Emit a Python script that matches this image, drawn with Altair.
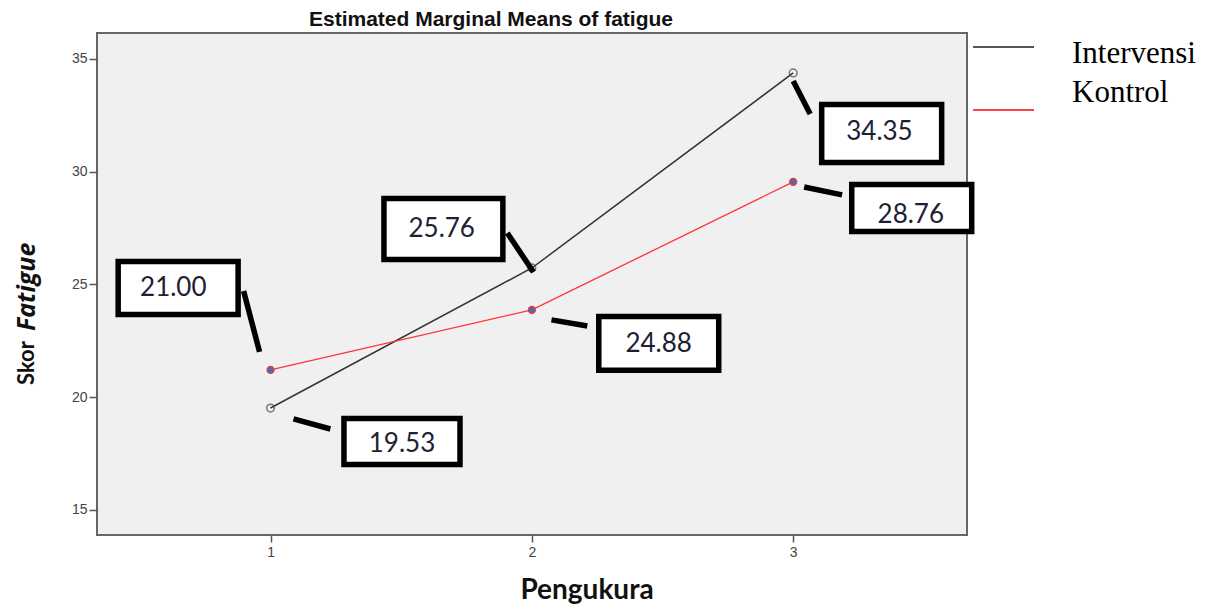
import altair as alt
import pandas as pd

# --- data ---
pengukuran = [1, 2, 3]
intervensi = [19.52, 25.73, 34.38]
kontrol = [21.21, 23.87, 29.55]

# annotation labels (text as printed in the boxes)
label_text = ["21.00", "25.76", "24.88", "34.35", "28.76", "19.53"]
# boxes in data units
box_x1 = [0.417, 1.434, 2.256, 3.109, 3.224, 1.281]
box_x2 = [0.876, 1.889, 2.715, 3.568, 3.683, 1.725]
box_y1 = [26.02, 28.81, 23.58, 32.98, 29.43, 19.06]
box_y2 = [23.67, 26.11, 21.19, 30.41, 27.35, 17.02]
txt_x = [0.628, 1.655, 2.485, 3.330, 3.450, 1.503]
txt_y = [24.84, 27.46, 22.38, 31.75, 28.10, 17.93]
# leader lines in data units
lead_x1 = [0.897, 1.906, 2.075, 3.000, 3.042, 1.088]
lead_y1 = [24.71, 27.28, 23.43, 34.02, 29.32, 19.04]
lead_x2 = [0.958, 2.006, 2.212, 3.065, 3.187, 1.229]
lead_y2 = [22.01, 25.55, 23.16, 32.56, 28.97, 18.59]

XDOM = [0.336, 3.665]
YDOM = [13.89, 36.15]

df_int = pd.DataFrame({"x": pengukuran, "y": intervensi})
df_kon = pd.DataFrame({"x": pengukuran, "y": kontrol})
df_box = pd.DataFrame({"x1": box_x1, "x2": box_x2, "y1": box_y1, "y2": box_y2,
                       "tx": txt_x, "ty": txt_y, "label": label_text})
df_lead = pd.DataFrame({"x1": lead_x1, "y1": lead_y1, "x2": lead_x2, "y2": lead_y2})

xscale = alt.Scale(domain=XDOM, nice=False, zero=False)
yscale = alt.Scale(domain=YDOM, nice=False, zero=False)
xaxis = alt.Axis(values=[1, 2, 3], format="d", grid=False, domain=False, title=None,
                 tickColor="#555", tickSize=7, tickWidth=1.5, labelFontSize=14,
                 labelColor="#444", labelPadding=3, labelFont="Liberation Sans")
yaxis = alt.Axis(values=[15, 20, 25, 30, 35], format="d", grid=False, domain=False, title=None,
                 tickColor="#555", tickSize=8, tickWidth=1.5, labelFontSize=14,
                 labelColor="#444", labelPadding=2, labelFont="Liberation Sans")

base_x = alt.X("x:Q", scale=xscale, axis=xaxis)
base_y = alt.Y("y:Q", scale=yscale, axis=yaxis)

line_int = alt.Chart(df_int).mark_line(color="#333333", strokeWidth=1.5).encode(x=base_x, y=base_y)
line_kon = alt.Chart(df_kon).mark_line(color="#ff3333", strokeWidth=1.3).encode(x="x:Q", y="y:Q")
pt_int = alt.Chart(df_int).mark_point(shape="circle", filled=False, color="#444", size=60,
                                      strokeWidth=1.5).encode(x="x:Q", y="y:Q")
pt_kon = alt.Chart(df_kon).mark_point(shape="circle", filled=True, fill="#4a6db0", stroke="#ff3333",
                                      strokeWidth=1.2, size=50, opacity=1).encode(x="x:Q", y="y:Q")

leads = alt.Chart(df_lead).mark_rule(color="black", strokeWidth=5.5).encode(
    x="x1:Q", y="y1:Q", x2="x2:Q", y2="y2:Q")
boxes = alt.Chart(df_box).mark_rect(fill="white", stroke="black", strokeWidth=5.5).encode(
    x="x1:Q", x2="x2:Q", y="y1:Q", y2="y2:Q")
btext = alt.Chart(df_box).mark_text(font="Lato", fontSize=26, color="#1c2233",
                                    align="center", baseline="middle").encode(
    x="tx:Q", y="ty:Q", text="label:N")

# custom legend
leg_names = ["Intervensi", "Kontrol"]
leg_colors = ["#555555", "#ff4444"]
leg_line1 = alt.Chart(pd.DataFrame({"n": [leg_names[0]]})).mark_rule(
    color=leg_colors[0], strokeWidth=2).encode(x=alt.value(876), x2=alt.value(937), y=alt.value(14))
leg_line2 = alt.Chart(pd.DataFrame({"n": [leg_names[1]]})).mark_rule(
    color=leg_colors[1], strokeWidth=2).encode(x=alt.value(876), x2=alt.value(937), y=alt.value(77))
leg_t1 = alt.Chart(pd.DataFrame({"n": [leg_names[0]]})).mark_text(
    font="Liberation Serif", fontSize=31, color="black", align="left", baseline="alphabetic").encode(
    x=alt.value(975), y=alt.value(30), text="n:N")
leg_t2 = alt.Chart(pd.DataFrame({"n": [leg_names[1]]})).mark_text(
    font="Liberation Serif", fontSize=31, color="black", align="left", baseline="alphabetic").encode(
    x=alt.value(975), y=alt.value(69), text="n:N")

# titles
title_t = alt.Chart(pd.DataFrame({"t": ["Estimated Marginal Means of fatigue"]})).mark_text(
    font="Liberation Sans", fontSize=21, fontWeight="bold", color="#111", align="center",
    baseline="alphabetic").encode(x=alt.value(394), y=alt.value(-7), text="t:N")
xt = alt.Chart(pd.DataFrame({"t": ["Pengukura"]})).mark_text(
    font="Lato", fontSize=28, fontWeight="bold", color="#111", align="center",
    baseline="alphabetic").encode(x=alt.value(490), y=alt.value(566), text="t:N")
yt1 = alt.Chart(pd.DataFrame({"t": ["Skor"]})).mark_text(
    font="Lato", fontSize=22, fontWeight="bold", color="#111", align="left", angle=270,
    baseline="middle").encode(x=alt.value(-70), y=alt.value(352), text="t:N")
yt2 = alt.Chart(pd.DataFrame({"t": ["Fatigue"]})).mark_text(
    font="Open Sans", fontSize=25, fontWeight="bold", fontStyle="italic", color="#111", align="left",
    angle=270, baseline="middle").encode(x=alt.value(-70), y=alt.value(298), text="t:N")

chart = alt.layer(line_int, line_kon, pt_int, pt_kon, leads, boxes, btext,
                  leg_line1, leg_line2, leg_t1, leg_t2, title_t, xt, yt1, yt2).properties(
    width=870, height=502,
    autosize=alt.AutoSizeParams(type="none"),
    padding={"left": 89, "top": 25, "right": 242, "bottom": 71},
    background="white",
).configure_view(fill="#f0f0f0", stroke="#666666", strokeWidth=2)

chart.save("out.html", embed_options={"renderer": "svg", "actions": False})
